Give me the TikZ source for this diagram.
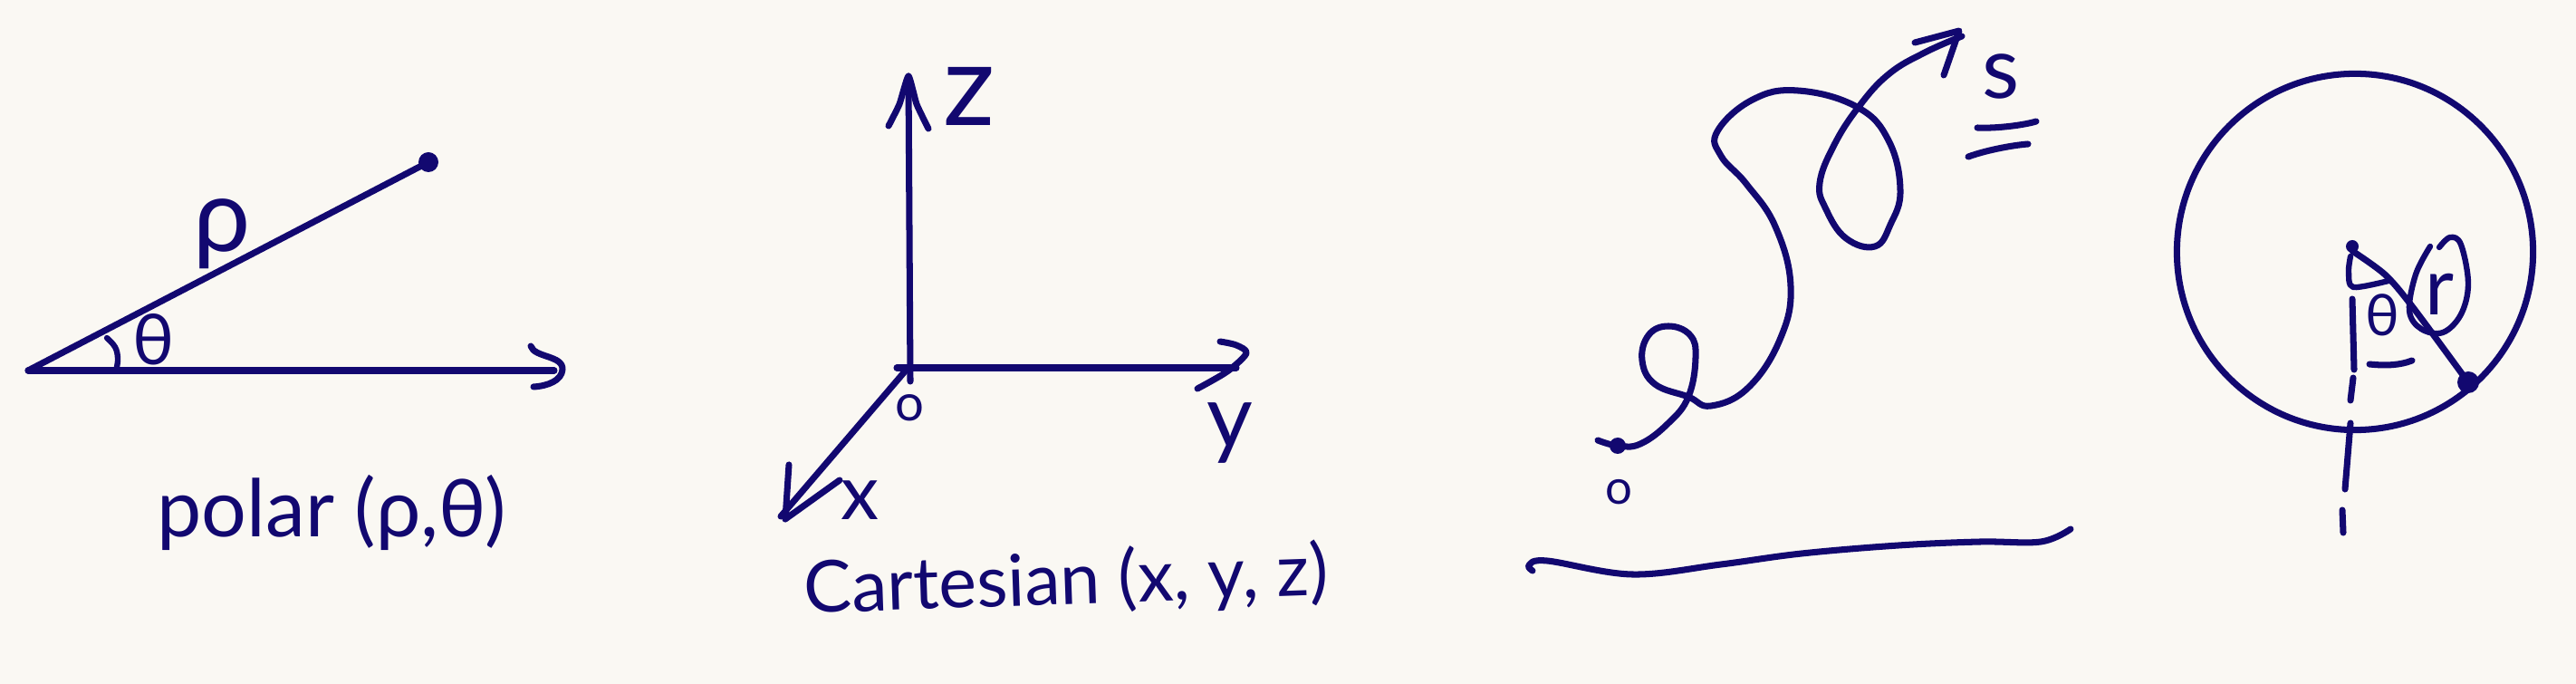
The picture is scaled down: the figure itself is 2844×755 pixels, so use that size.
\documentclass[tikz,border=0pt]{standalone}
\usepackage{fontspec}
\setmainfont{Lato}
\definecolor{ink}{RGB}{18,8,112}
\definecolor{paper}{RGB}{250,248,243}
\tikzset{
  pen/.style={draw=ink,line width=2pt,line cap=round,line join=round},
  thinpen/.style={draw=ink,line width=1.8pt,line cap=round,line join=round},
  blob/.style={fill=ink,draw=none},
  lab/.style={text=ink,inner sep=0pt,outer sep=0pt},
  fs/.style={font=\fontsize{#1}{#1}\selectfont}
}
\begin{document}
\begin{tikzpicture}[x=0.01cm,y=-0.01cm]
\fill[paper] (0,0) rectangle (2844,755);
\useasboundingbox (0,0) rectangle (2844,755);
% ---- polar
\coordinate (po) at (31,409);
\coordinate (pr) at (473,179);
\coordinate (px) at (612,409);
\draw[pen] (po) -- (pr);
\draw[pen] (po) -- (px);
\fill[blob] (pr) circle (11);
\draw[pen] (586,382) .. controls (590,395) and (622,392) .. (621,408) .. controls (620,420) and (605,426) .. (589,427);
\draw[thinpen] plot[smooth,tension=0.7] coordinates {(118,373) (127,383) (130,395) (129,405)};
\node[lab,fs=22] (ptheta) at (170,375) {θ};
\node[lab,fs=32] (prho) at (245,258) {ρ};
\node[lab,fs=25] (plabel) at (366,566) {polar (ρ,θ)};
% ---- cartesian
\coordinate (zb) at (1005,421);
\coordinate (zt) at (1003,84);
\coordinate (yb) at (990,406);
\coordinate (yt) at (1365,406);
\coordinate (xb) at (999,410);
\coordinate (xt) at (862,570);
\draw[pen] (zb) -- (zt);
\draw[pen] (yb) -- (yt);
\draw[pen] (xb) -- (xt);
\draw[pen] plot[smooth,tension=0.3] coordinates {(981,139) (993,115) (1003,84) (1012,115) (1025,142)};
\draw[pen] plot[smooth,tension=0.5] coordinates {(1347,377) (1365,381) (1376,390) (1355,410) (1322,429)};
\draw[pen] (871,513) -- (867,573) -- (927,530);
\node[lab,fs=36] (cz) at (1070,106) {z};
\node[lab,fs=16] (co) at (1004,450) {o};
\node[lab,fs=28] (cy) at (1358,478) {y};
\node[lab,fs=24] (cx) at (950,552) {x};
\node[lab,fs=22.5,rotate=2] (clabel) at (1177,643) {Cartesian (x, y, z)};
% ---- curve s
\coordinate (sd) at (1786,492);
\draw[pen] plot[smooth,tension=0.7] coordinates {
 (1764,486) (1786,492) (1811,490) (1842,467) (1864,438) (1872,395) (1866,370) (1842,360)
 (1820,370) (1813,398) (1827,424) (1864,438) (1889,448) (1930,428) (1965,375)
 (1977,316) (1960,250) (1928,203) (1900,172) (1896,145) (1935,110) (1985,100)
 (2050,118) (2085,155) (2098,210) (2087,248) (2070,272) (2038,263) (2016,231)
 (2009,202) (2025,160) (2052,118) (2085,82) (2125,58) (2166,40)};
\draw[pen] (2114,47) -- (2163,34) -- (2146,83);
\fill[blob] (sd) circle (9);
\node[lab,fs=27] (ss) at (2209,84) {s};
\draw[pen] (2183,141) .. controls (2205,142) and (2235,138) .. (2248,134);
\draw[pen] (2173,173) .. controls (2195,165) and (2225,160) .. (2239,159);
\node[lab,fs=15] (so) at (1787,543) {o};
\draw[pen] plot[smooth,tension=0.6] coordinates {
 (1692,630) (1688,624) (1708,619) (1802,634) (1900,623) (1989,611) (2096,602) (2186,598) (2253,598) (2286,584)};
% ---- circle
\node[draw=ink,line width=2pt,circle,minimum size=3.93cm,inner sep=0pt] (ring) at (2600,278) {};
\coordinate (cc) at (2597,277);
\coordinate (cr) at (2725,422);
\fill[blob] (2597,272) circle (7);
\fill[blob] (cr) circle (12);
\draw[pen] plot[smooth,tension=0.5] coordinates {(cc) (2633,303) (2663,338) (cr)};
\draw[thinpen] plot[smooth,tension=0.5] coordinates {(2595,283) (2593,300) (2598,317) (2637,310)};
\draw[pen] (2597,330) -- (2599,408);
\draw[pen] (2598,417) -- (2595,442);
\draw[pen] (2595,467) -- (2589,540);
\draw[pen] (2586,563) -- (2587,588);
\node[lab,fs=18] (ctheta) at (2630,348) {θ};
\draw[pen] (2616,402) .. controls (2635,404) and (2650,403) .. (2663,398);
\node[lab,fs=25] (cradius) at (2693,325) {r};
\draw[thinpen] plot[smooth,tension=0.6] coordinates {(2683,272) (2667,303) (2660,343) (2673,363) (2697,367) (2717,347) (2725,313) (2717,270) (2705,262) (2693,273)};
\end{tikzpicture}
\end{document}
